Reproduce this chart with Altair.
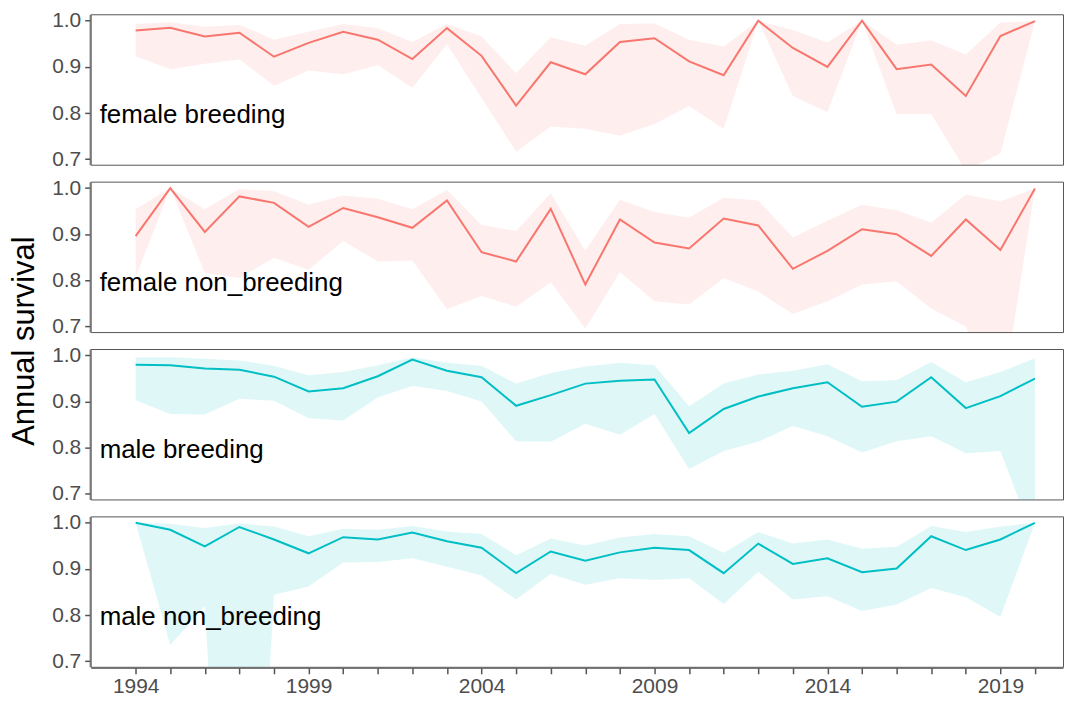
import altair as alt
import pandas as pd

years = list(range(1994, 2021))
groups = ["female breeding", "female non_breeding", "male breeding", "male non_breeding"]
sexes = ["female", "female", "male", "male"]

fb_est = [0.979, 0.985, 0.966, 0.974, 0.922, 0.952, 0.976, 0.959, 0.917, 0.984, 0.924, 0.816, 0.910, 0.884,
          0.954, 0.962, 0.912, 0.882, 1.000, 0.941, 0.900, 1.000, 0.895, 0.905, 0.837, 0.967, 0.999]
fb_hi = [0.993, 0.997, 0.987, 0.991, 0.959, 0.976, 0.993, 0.984, 0.954, 0.993, 0.966, 0.886, 0.964, 0.946,
         0.993, 0.994, 0.959, 0.944, 1.000, 0.980, 0.953, 1.000, 0.948, 0.957, 0.927, 0.996, 0.999]
fb_lo = [0.923, 0.895, 0.907, 0.916, 0.859, 0.892, 0.884, 0.904, 0.855, 0.949, 0.833, 0.716, 0.771, 0.766,
         0.751, 0.776, 0.815, 0.766, 1.000, 0.837, 0.802, 1.000, 0.798, 0.798, 0.675, 0.713, 0.999]

fn_est = [0.896, 1.000, 0.905, 0.982, 0.968, 0.916, 0.957, 0.937, 0.914, 0.973, 0.861, 0.841, 0.955, 0.791,
          0.932, 0.882, 0.869, 0.934, 0.919, 0.825, 0.864, 0.911, 0.900, 0.853, 0.932, 0.866, 0.999]
fn_hi = [0.954, 1.000, 0.954, 0.998, 0.993, 0.964, 0.984, 0.977, 0.954, 0.996, 0.920, 0.907, 0.989, 0.864,
         0.975, 0.948, 0.936, 0.979, 0.973, 0.893, 0.929, 0.964, 0.952, 0.925, 0.986, 0.971, 0.999]
fn_lo = [0.807, 1.000, 0.816, 0.805, 0.849, 0.823, 0.886, 0.841, 0.843, 0.738, 0.766, 0.743, 0.796, 0.696,
         0.818, 0.755, 0.748, 0.805, 0.776, 0.727, 0.755, 0.791, 0.798, 0.739, 0.700, 0.520, 0.999]

mb_est = [0.980, 0.979, 0.972, 0.969, 0.954, 0.922, 0.929, 0.955, 0.991, 0.967, 0.953, 0.891, 0.914, 0.939,
          0.945, 0.948, 0.832, 0.884, 0.911, 0.929, 0.942, 0.889, 0.900, 0.953, 0.886, 0.912, 0.950]
mb_hi = [0.996, 0.996, 0.993, 0.989, 0.978, 0.957, 0.964, 0.979, 0.996, 0.984, 0.978, 0.939, 0.962, 0.976,
         0.984, 0.979, 0.890, 0.939, 0.959, 0.967, 0.981, 0.944, 0.947, 0.986, 0.942, 0.964, 0.994]
mb_lo = [0.903, 0.873, 0.872, 0.906, 0.902, 0.864, 0.859, 0.909, 0.934, 0.923, 0.900, 0.814, 0.813, 0.852,
         0.828, 0.873, 0.754, 0.793, 0.813, 0.847, 0.825, 0.790, 0.814, 0.825, 0.788, 0.793, 0.595]

mn_est = [1.000, 0.985, 0.949, 0.991, 0.964, 0.934, 0.969, 0.964, 0.979, 0.960, 0.946, 0.891, 0.938, 0.918,
          0.936, 0.946, 0.941, 0.891, 0.955, 0.911, 0.923, 0.893, 0.901, 0.971, 0.941, 0.964, 1.000]
mn_hi = [1.000, 0.998, 0.989, 0.999, 0.992, 0.971, 0.987, 0.985, 0.993, 0.981, 0.976, 0.930, 0.966, 0.951,
         0.968, 0.976, 0.971, 0.935, 0.980, 0.955, 0.964, 0.944, 0.948, 0.993, 0.980, 0.992, 1.000]
mn_lo = [1.000, 0.735, 0.820, -0.480, 0.844, 0.862, 0.914, 0.915, 0.923, 0.905, 0.886, 0.834, 0.889, 0.866,
         0.880, 0.876, 0.880, 0.824, 0.894, 0.834, 0.841, 0.809, 0.823, 0.859, 0.839, 0.796, 1.000]

series = [(fb_est, fb_lo, fb_hi), (fn_est, fn_lo, fn_hi), (mb_est, mb_lo, mb_hi), (mn_est, mn_lo, mn_hi)]

rows = []
for g, s, (est, lo, hi) in zip(groups, sexes, series):
    for y, e, l, h in zip(years, est, lo, hi):
        rows.append({"group": g, "sex": s, "year": y, "est": e, "lo": l, "hi": h})
df = pd.DataFrame(rows)

color_scale = alt.Scale(domain=["female", "male"], range=["#F8766D", "#00BFC4"])
x_scale = alt.Scale(domain=[1992.7, 2020.81], nice=False, zero=False)
y_scale = alt.Scale(domain=[0.688, 1.014], nice=False, zero=False)

x_enc = alt.X("year:Q", scale=x_scale, title=None,
              axis=alt.Axis(values=years, format="d", grid=False, tickSize=6, labelPadding=2,
                            labelExpr="(datum.value - 1994) % 5 == 0 ? datum.label : ''"))
y_axis = alt.Axis(values=[0.7, 0.8, 0.9, 1.0], format=".1f", grid=False, tickSize=5,
                  labelPadding=4, title=None, minExtent=31, maxExtent=31)

band = alt.Chart().mark_area(clip=True, opacity=0.12, interpolate="linear").encode(
    x=x_enc,
    y=alt.Y("lo:Q", scale=y_scale, axis=y_axis),
    y2="hi:Q",
    color=alt.Color("sex:N", scale=color_scale, legend=None),
)

line = alt.Chart().mark_line(clip=True, strokeWidth=2).encode(
    x=x_enc,
    y=alt.Y("est:Q", scale=y_scale, axis=y_axis),
    color=alt.Color("sex:N", scale=color_scale, legend=None),
)

label = alt.Chart().transform_filter(alt.datum.year == 1994).mark_text(
    align="left", baseline="middle", fontSize=26, font="Liberation Sans", color="black"
).encode(
    x=alt.value(9),
    y=alt.datum(0.795),
    text="group:N",
)

chart = alt.layer(band, line, label, data=df).properties(width=976, height=151).facet(
    row=alt.Row("group:N", sort=groups, title="Annual survival",
                header=alt.Header(labels=False, titleOrient="left", titleFont="Liberation Sans",
                                  titleFontSize=31, titleFontWeight="normal", titleColor="black",
                                  titlePadding=0)),
    spacing=15,
).properties(
    padding={"left": 0, "top": 0, "right": 0, "bottom": 0}
).configure_view(
    stroke="#555555", strokeWidth=1
).configure_axis(
    labelFont="Liberation Sans", labelFontSize=21, labelColor="#4D4D4D",
    domainColor="#555555", tickColor="#555555", domainWidth=1, tickWidth=1.5,
)

chart.save("out.html", embed_options={"renderer": "svg", "actions": False})
